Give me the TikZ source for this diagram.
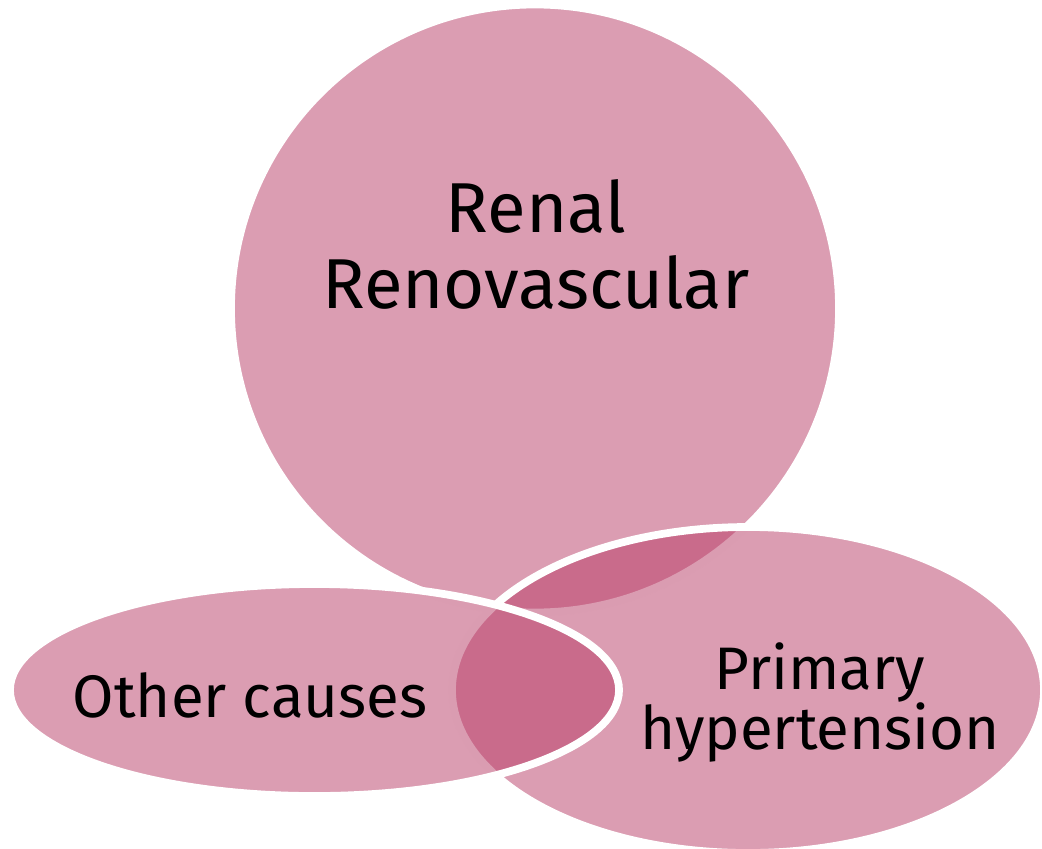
\documentclass[tikz,border=0pt]{standalone}
\usepackage{fontspec}
\setmainfont{Fira Sans}
\definecolor{vennbase}{RGB}{183,59,101}
\begin{document}
\begin{tikzpicture}[x=0.75pt,y=-0.75pt,
  venn/.style={fill=vennbase, fill opacity=0.5, draw=white, draw opacity=1, line width=5.8pt},
  lbl/.style={inner sep=0pt, text=black, align=center}]
\useasboundingbox (0,0) rectangle (1042,849);
\path[venn] (535,308.5) circle[radius=228pt];
\path[venn] (748,690) ellipse[x radius=222pt, y radius=122.25pt];
\path[venn] (314.5,690) ellipse[x radius=228.4pt, y radius=79.5pt];
\node[lbl, font=\fontsize{53}{57}\selectfont] (renal) at (536,244) {Renal\\Renovascular};
\node[lbl, font=\fontsize{45}{42}\selectfont, anchor=base] (other) at (250,717) {Other causes};
\node[lbl, font=\fontsize{45}{42}\selectfont] (primary) at (820,702.5) {Primary\\hypertension};
\end{tikzpicture}
\end{document}
